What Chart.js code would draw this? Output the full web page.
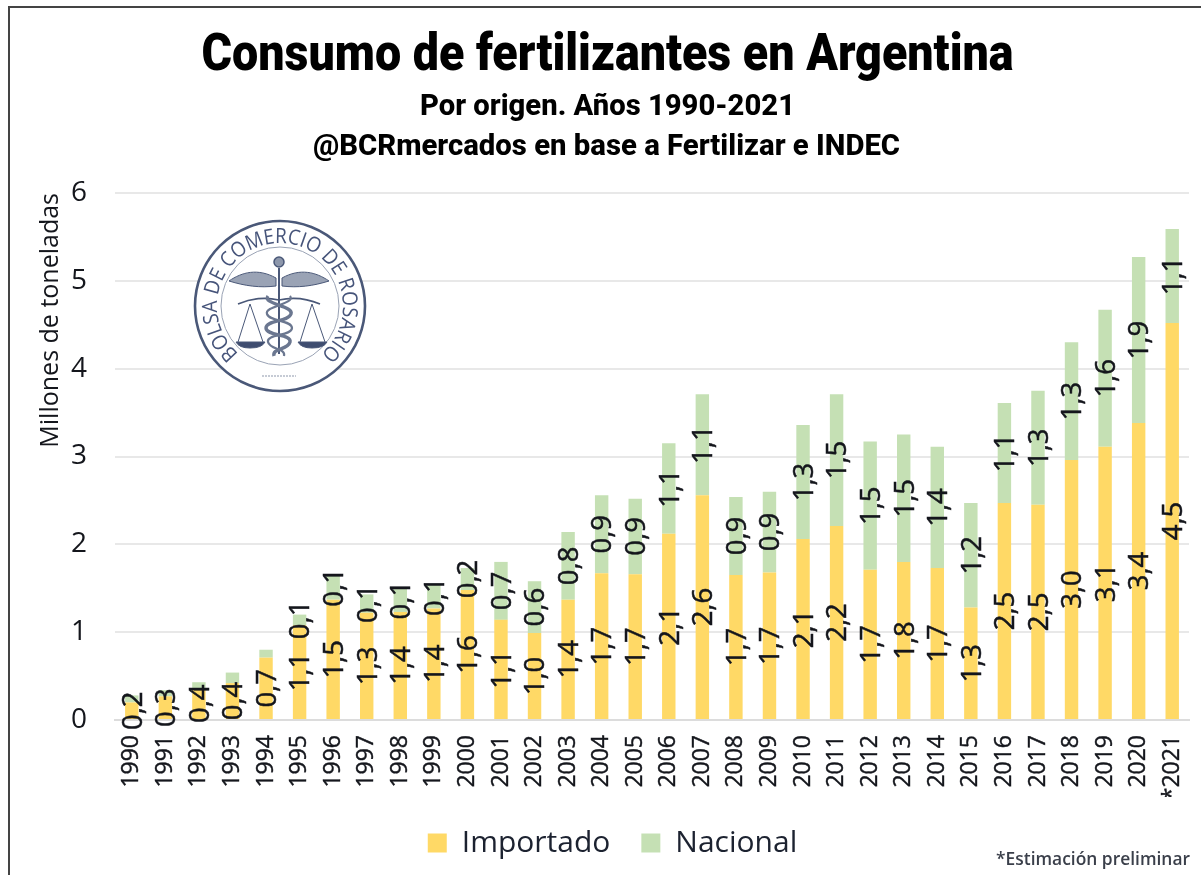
<!DOCTYPE html>
<html lang="es">
<head>
<meta charset="utf-8">
<title>Consumo de fertilizantes en Argentina</title>
<script src="https://cdn.jsdelivr.net/npm/chart.js@4/dist/chart.umd.min.js"></script>
<style>
  html, body { margin: 0; padding: 0; background: #fff; width: 1201px; height: 875px; overflow: hidden; }
  #wrap { position: relative; width: 1201px; height: 875px; }
  canvas { position: absolute; left: 0; top: 0; filter: blur(0.45px); }
  #bl { position: absolute; left: 8px; top: 6px; width: 2px; height: 869px; background: #444; }
  #bt { position: absolute; left: 8px; top: 6px; width: 1193px; height: 2px; background: #444; }
  #note { position: absolute; right: 11px; top: 846px; font: 600 17.4px "Open Sans", sans-serif; color: #3a3f4a; white-space: nowrap; }
  #logo { position: absolute; left: 0; top: 0; filter: blur(0.5px); }
</style>
</head>
<body>
<div id="wrap">
  <canvas id="c" width="1201" height="875"></canvas>
  <div id="bl"></div><div id="bt"></div>
  <svg id="logo" width="1201" height="875" viewBox="0 0 1201 875" xmlns="http://www.w3.org/2000/svg">
    <defs>
      <path id="arc" d="M 280 369 A 63 63 0 1 1 280 243 A 63 63 0 1 1 280 369"/>
    </defs>
    <g fill="none" stroke="#4a5878">
      <circle cx="280" cy="306" r="85" fill="#fff" stroke-width="2.6"/>
      <circle cx="280" cy="306" r="59" stroke-width="1" stroke="#9aa3b5"/>
      <path d="M279 268 V354" stroke-width="2"/>
      <circle cx="279" cy="262" r="5" stroke-width="1.5" fill="#8d97ab"/>
      <path d="M276 278 C258 268 242 272 229 281 C245 286 260 288 276 286 Z" fill="#9aa3b5" stroke-width="1"/>
      <path d="M282 278 C300 268 316 272 329 281 C313 286 298 288 282 286 Z" fill="#9aa3b5" stroke-width="1"/>
      <path d="M238 304 C252 298 266 297 279 300 C292 297 306 298 320 304" stroke-width="1.6"/>
      <path d="M250 304 L238 342 M250 304 L263 342" stroke-width="1"/>
      <path d="M236 342 H265 Q262 348 250 348 Q239 348 236 342 Z" fill="#3f4d70" stroke-width="1"/>
      <path d="M312 304 L300 342 M312 304 L325 342" stroke-width="1"/>
      <path d="M298 342 H327 Q324 348 312 348 Q301 348 298 342 Z" fill="#3f4d70" stroke-width="1"/>
      <path d="M268 296 C262 304 294 306 291 314 C288 322 266 320 266 328 C266 336 292 334 290 342 C288 350 272 348 274 356" stroke-width="3.4" stroke="#6b7790"/>
      <path d="M290 296 C296 304 264 306 267 314 C270 322 292 320 292 328 C292 336 266 334 268 342 C270 350 286 348 284 356" stroke-width="2.2" stroke="#6b7790"/>
      <path d="M262 376 H296" stroke-width="1" stroke-dasharray="2 1" stroke="#8d97ab"/>
    </g>
    <text font-family="Open Sans, sans-serif" font-size="21" fill="#46547a">
      <textPath href="#arc" startOffset="11.4%" textLength="306" lengthAdjust="spacingAndGlyphs">BOLSA DE COMERCIO DE ROSARIO</textPath>
    </text>
  </svg>
  <div id="note">*Estimación preliminar</div>
</div>
<script>
const categories = ["1990","1991","1992","1993","1994","1995","1996","1997","1998","1999","2000","2001","2002","2003","2004","2005","2006","2007","2008","2009","2010","2011","2012","2013","2014","2015","2016","2017","2018","2019","2020","*2021"];
const importado = [0.20,0.27,0.36,0.42,0.71,1.08,1.37,1.22,1.23,1.27,1.48,1.14,0.99,1.37,1.67,1.66,2.12,2.56,1.65,1.68,2.06,2.21,1.71,1.80,1.73,1.28,2.47,2.45,2.96,3.11,3.38,4.52];
const nacional = [0.08,0.07,0.07,0.12,0.09,0.12,0.28,0.21,0.27,0.27,0.25,0.66,0.59,0.77,0.89,0.86,1.03,1.15,0.89,0.92,1.30,1.50,1.46,1.45,1.38,1.19,1.14,1.30,1.34,1.56,1.89,1.07];
const importadoLabels = ["0,2","0,3","0,4","0,4","0,7","1,1","1,5","1,3","1,4","1,4","1,6","1,1","1,0","1,4","1,7","1,7","2,1","2,6","1,7","1,7","2,1","2,2","1,7","1,8","1,7","1,3","2,5","2,5","3,0","3,1","3,4","4,5"];
const nacionalLabels = ["","","","","","0,1","0,1","0,1","0,1","0,1","0,2","0,7","0,6","0,8","0,9","0,9","1,1","1,1","0,9","0,9","1,3","1,5","1,5","1,5","1,4","1,2","1,1","1,3","1,3","1,6","1,9","1,1"];
const yTicks = [0,1,2,3,4,5,6];
const titleText = "Consumo de fertilizantes en Argentina";
const subtitleLines = ["Por origen. Años 1990-2021","@BCRmercados en base a Fertilizar e INDEC"];
const axisTitle = "Millones de toneladas";

const headings = {
  id: "headings",
  afterDraw(chart) {
    const ctx = chart.ctx;
    ctx.save();
    ctx.fillStyle = "#000";
    ctx.textAlign = "center";
    ctx.textBaseline = "alphabetic";
    ctx.font = '900 52px Roboto, sans-serif';
    ctx.fillText(titleText, 607.5, 70, 812);
    ctx.font = '800 30px Roboto, sans-serif';
    ctx.fillText(subtitleLines[0], 607.5, 115, 375);
    ctx.fillText(subtitleLines[1], 606.5, 155, 587);
    ctx.restore();
  }
};

const segmentLabels = {
  id: "segmentLabels",
  afterDatasetsDraw(chart) {
    const ctx = chart.ctx;
    const sets = [importadoLabels, nacionalLabels];
    ctx.save();
    ctx.font = '500 27.5px "Open Sans", sans-serif';
    ctx.fillStyle = "#14161c";
    ctx.strokeStyle = "#14161c";
    ctx.lineWidth = 0.5;
    ctx.textAlign = "center";
    ctx.textBaseline = "middle";
    sets.forEach((labels, di) => {
      chart.getDatasetMeta(di).data.forEach((bar, i) => {
        if (!labels[i]) return;
        ctx.save();
        ctx.translate(bar.x + 2, (bar.y + bar.base) / 2);
        ctx.rotate(-Math.PI / 2);
        ctx.fillText(labels[i], 0, 0);
        ctx.strokeText(labels[i], 0, 0);
        ctx.restore();
      });
    });
    ctx.restore();
  }
};

new Chart(document.getElementById("c"), {
  type: "bar",
  plugins: [segmentLabels, headings],
  data: {
    labels: categories,
    datasets: [
      { label: "Importado", data: importado, backgroundColor: "#FFD966", stack: "s", barPercentage: 0.4, categoryPercentage: 1 },
      { label: "Nacional", data: nacional, backgroundColor: "#C5E0B4", stack: "s", barPercentage: 0.4, categoryPercentage: 1 }
    ]
  },
  options: {
    responsive: false,
    animation: false,
    devicePixelRatio: 1,
    layout: { padding: { left: 36, right: 12, top: 193, bottom: 7 } },
    plugins: {
      legend: {
        position: "bottom",
        labels: {
          boxWidth: 19, boxHeight: 19, padding: 31,
          color: "#1c2230",
          font: { family: '"Open Sans", sans-serif', size: 30 }
        }
      },
      tooltip: { enabled: false }
    },
    scales: {
      x: {
        stacked: true,
        afterFit(s) { s.height = 77; s.paddingLeft = 0; s.paddingRight = 0; },
        grid: { display: false, drawTicks: false },
        border: { color: "#dcdcdc", width: 2 },
        ticks: {
          autoSkip: false, minRotation: 90, maxRotation: 90, padding: 15,
          color: "#14161c", textStrokeColor: "#14161c", textStrokeWidth: 0.4,
          font: { family: '"Open Sans", sans-serif', size: 23, weight: 500 }
        }
      },
      y: {
        stacked: true,
        min: 0, max: 6,
        afterFit(s) { s.width = 79; s.paddingTop = 0; s.paddingBottom = 0; },
        afterBuildTicks(s) { s.ticks = yTicks.map(v => ({ value: v })); },
        grid: { color: "#e8e8e8", lineWidth: 2, drawTicks: false },
        border: { display: false },
        title: {
          display: true, text: axisTitle, align: "end",
          color: "#14161c", padding: { top: 2, bottom: 0 },
          font: { family: '"Open Sans", sans-serif', size: 25, lineHeight: 1 }
        },
        ticks: {
          padding: 28, color: "#14161c",
          font: { family: '"Open Sans", sans-serif', size: 28, weight: 500 }
        }
      }
    }
  }
});
</script>
</body>
</html>
